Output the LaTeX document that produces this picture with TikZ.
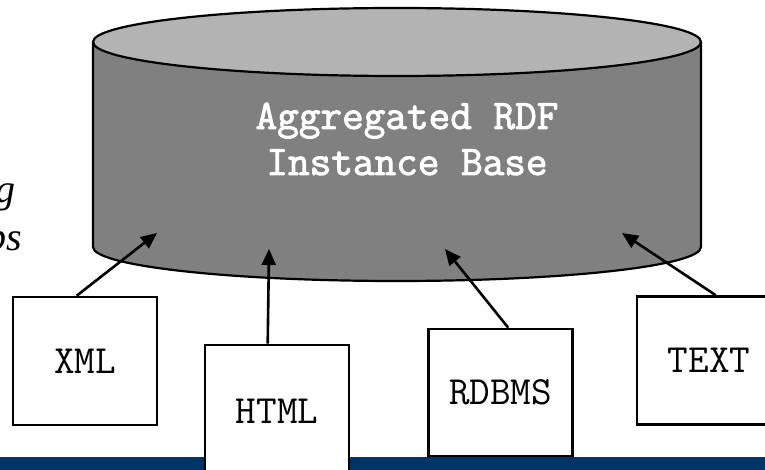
\documentclass[tikz,border=0pt]{standalone}
\usepackage{fontspec}
\setmainfont{Liberation Serif}
\newfontfamily\monofont{Latin Modern Mono}
\newfontfamily\monoboldfont{Latin Modern Mono}[FakeBold=2.2]
\usetikzlibrary{arrows.meta,calc}

\definecolor{dbtop}{HTML}{B3B3B3}
\definecolor{dbbody}{HTML}{808080}
\definecolor{barblue}{HTML}{003366}

\tikzset{
  srcbox/.style={draw=black, line width=2.6pt, fill=white, minimum width=144pt,
    inner sep=0pt, font=\monofont\fontsize{40}{44}\selectfont},
  feed/.style={line width=2.6pt, -{Triangle[length=16pt,width=14pt]}},
  outline/.style={line width=2.2pt, draw=black},
  sidetext/.style={font=\itshape\fontsize{40}{46}\selectfont, inner sep=0pt, anchor=base west},
}

\begin{document}
\begin{tikzpicture}[x=1pt,y=1pt]
  \useasboundingbox (0,0) rectangle (765,-470);

  % bottom band
  \fill[barblue] (0,-457) rectangle (765,-470);

  % cylinder body
  \path[fill=dbbody] (93,-42) -- (93,-247)
    arc[start angle=180, end angle=360, x radius=304, y radius=34]
    -- (701,-42) -- cycle;
  \draw[outline] (93,-42) -- (93,-247)
    arc[start angle=180, end angle=360, x radius=304, y radius=34]
    -- (701,-42);
  % cylinder lid
  \draw[outline, fill=dbtop] (397,-42) ellipse [x radius=304, y radius=34];

  \node[font=\monoboldfont\fontsize{42}{46}\selectfont, text=white, align=center]
    (dblabel) at (407,-139) {Aggregated RDF\\Instance Base};

  % clipped side texts
  \node[sidetext] (lefttop) at (-5,-203) {g};
  \node[sidetext] (leftbot) at (-14,-251) {ps};

  % source boxes
  \node[srcbox, minimum height=128pt] (xml) at (85,-361) {XML};
  \node[srcbox, minimum height=132pt] (html) at (277,-411) {HTML};
  \node[srcbox, minimum height=127pt] (rdbms) at (500.5,-392.5) {RDBMS};
  \node[srcbox, minimum height=128pt] (text) at (709,-360.5) {TEXT};

  % arrow targets inside the cylinder
  \coordinate (txml) at (157,-233);
  \coordinate (thtml) at (269,-249);
  \coordinate (trdbms) at (445,-249);
  \coordinate (ttext) at (622,-233);

  \draw[feed] ([xshift=65pt]xml.north west) -- (txml);
  \draw[feed] ([xshift=64pt]html.north west) -- (thtml);
  \draw[feed] ([xshift=81pt]rdbms.north west) -- (trdbms);
  \draw[feed] ([xshift=80pt]text.north west) -- (ttext);
\end{tikzpicture}
\end{document}
